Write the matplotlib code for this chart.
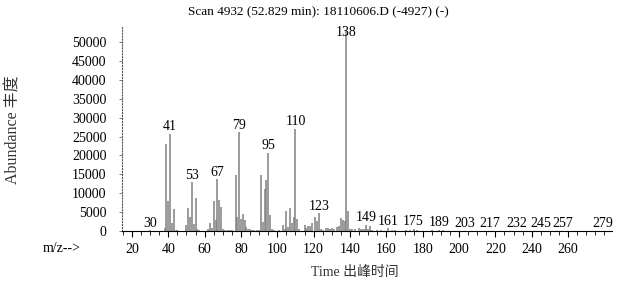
import matplotlib
matplotlib.use('Agg')
import matplotlib.pyplot as plt
from matplotlib.ticker import MultipleLocator

plt.rcParams['font.family'] = ['Liberation Serif', 'Noto Sans CJK SC']

# spectrum (m/z, abundance)
mz = [30, 38, 39, 40, 41, 42, 43, 44, 45, 50, 51, 52, 53, 54, 55, 56, 57,
      62, 63, 64, 65, 66, 67, 68, 69, 70, 71, 73, 74, 75, 77, 78, 79, 80,
      81, 82, 83, 84, 85, 86, 87, 89, 90, 91, 92, 93, 94, 95, 96, 97, 98,
      101, 103, 104, 105, 106, 107, 108, 109, 110, 111, 112, 115, 116, 117,
      118, 119, 121, 122, 123, 124, 125, 127, 128, 129, 130, 131, 133, 134,
      135, 136, 137, 138, 139, 140, 141, 143, 145, 146, 147, 148, 149, 150,
      151, 152, 155, 157, 161, 163, 165, 171, 173, 175, 177, 185, 189, 191,
      203, 207, 217, 232, 245, 257, 279]
abundance = [150, 900, 22900, 7900, 25800, 2100, 5800, 300, 150, 1500, 6100,
             3800, 12900, 1900, 8800, 500, 250,
             600, 2200, 800, 7900, 2800, 13700, 8300, 6300, 500, 300, 250, 300,
             350, 14900, 3800, 26100, 3300,
             4500, 2800, 1000, 500, 400, 300, 250, 300, 350, 14700, 2500, 11000,
             13400, 20700, 4100, 600, 300,
             300, 1500, 600, 5200, 1000, 6000, 2000, 3800, 27000, 3200, 500,
             1700, 800, 1200,
             1200, 2000, 3700, 2600, 4700, 500, 300, 700, 800, 600, 700, 500,
             1000, 1300,
             3400, 2800, 2600, 53000, 5400, 600, 400, 500, 700, 400, 600, 500,
             1600, 500,
             1400, 300, 300, 250, 700, 250, 200, 250, 300, 500, 300, 200, 300,
             150,
             120, 100, 120, 120, 100, 100, 120]
labels = [30, 41, 53, 67, 79, 95, 110, 123, 138, 149, 161, 175, 189, 203,
          217, 232, 245, 257, 279]

fig = plt.figure(figsize=(6.17, 2.82), dpi=100)
ax = fig.add_axes([0.1977, 0.1809, 0.7942, 0.7234])

ax.vlines(mz, 0, abundance, color='#808080', linewidth=1.1)

height = dict(zip(mz, abundance))
for m in labels:
    h = height[m]
    if h > 45000:
        # base peak: label sits on the top of the line
        ax.annotate(str(m), (m, h), xytext=(0, -1), textcoords='offset points',
                    ha='center', va='center', fontsize=10)
    else:
        ax.annotate(str(m), (m, h), xytext=(0, 0.5), textcoords='offset points',
                    ha='center', va='bottom', fontsize=10)

ax.set_xlim(14.5, 284.2)
ax.set_ylim(0, 54000)
ax.xaxis.set_minor_locator(MultipleLocator(5))
ax.set_xticks(range(20, 261, 20))
ax.yaxis.set_major_locator(MultipleLocator(5000))
ax.tick_params(axis='x', which='major', length=4, width=0.8, pad=5, labelsize=10)
ax.tick_params(axis='x', which='minor', length=3, width=0.6)
ax.tick_params(axis='y', which='major', length=2, width=0.6, pad=9, labelsize=10,
               color='#666666')

for s in ['top', 'right']:
    ax.spines[s].set_visible(False)
ax.spines['left'].set_linestyle(':')
ax.spines['left'].set_color('#555555')
ax.spines['bottom'].set_linewidth(0.8)

fig.text(0.516, 0.957, 'Scan 4932 (52.829 min): 18110606.D (-4927) (-)',
         ha='center', va='center', fontsize=9.5)
fig.text(0.022, 0.54, 'Abundance 丰度', rotation=90, ha='center', va='center',
         fontsize=11.5, color='#333333')
fig.text(0.1, 0.12, 'm/z-->', ha='center', va='center', fontsize=10)
fig.text(0.575, 0.035, 'Time 出峰时间', ha='center', va='center', fontsize=10,
         color='#333333')

fig.savefig('out.png', dpi=100)
